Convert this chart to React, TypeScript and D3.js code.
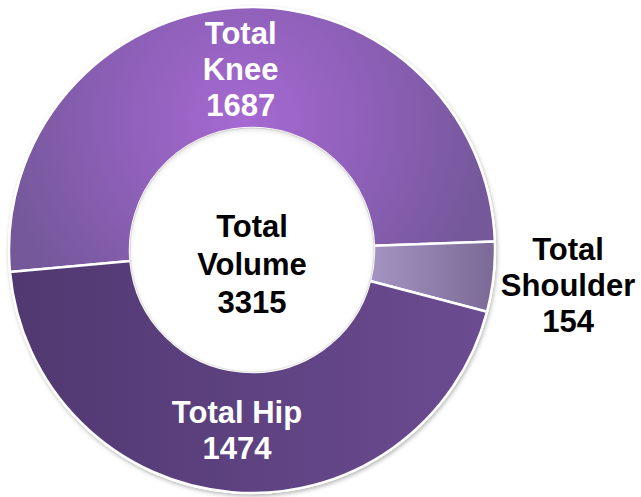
import React from "react";
import * as d3 from "d3";

const categories = ["Total Knee", "Total Shoulder", "Total Hip"];
const values = [1687, 154, 1474];
const centerTitle = ["Total", "Volume"];
const labelLines = [["Total", "Knee"], ["Total", "Shoulder"], ["Total Hip"]];

const W = 641, H = 497;
const cx = 252, cy = 250;
const R = 243, r0 = 122;
const startDeg = -95.2;
const FONT = "'Liberation Sans', Arial, Helvetica, sans-serif";

export default function App() {
  const total = d3.sum(values);
  const pie = d3.pie<number>().sort(null).value(d => d)
    .startAngle(startDeg * Math.PI / 180)
    .endAngle(startDeg * Math.PI / 180 + 2 * Math.PI);
  const arcs = pie(values);
  const arc = d3.arc<d3.PieArcDatum<number>>().innerRadius(r0).outerRadius(R);
  const labelArcIn = d3.arc<d3.PieArcDatum<number>>().innerRadius(181).outerRadius(181);
  const labelArcOut = d3.arc<d3.PieArcDatum<number>>().innerRadius(318).outerRadius(318);
  const fills = ["url(#gKnee)", "url(#gShoulder)", "url(#gHip)"];
  const lineH = 36;

  return (
    <svg width={W} height={H} style={{ position: "absolute", left: 0, top: 0 }}>
      <defs>
        <radialGradient id="gKnee" gradientUnits="userSpaceOnUse" cx={-8} cy={-130} r={250}>
          <stop offset="0" stopColor="#a669d2" />
          <stop offset="0.55" stopColor="#8c5fb6" />
          <stop offset="1" stopColor="#74589a" />
        </radialGradient>
        <linearGradient id="gShoulder" gradientUnits="userSpaceOnUse" x1={r0} x2={R} y1={0} y2={0}>
          <stop offset="0" stopColor="#a393c0" />
          <stop offset="1" stopColor="#7b6995" />
        </linearGradient>
        <linearGradient id="gHip" gradientUnits="userSpaceOnUse" x1={-R} x2={R} y1={0} y2={0}>
          <stop offset="0" stopColor="#503870" />
          <stop offset="1" stopColor="#6c4c92" />
        </linearGradient>
        <filter id="shadow" x="-10%" y="-10%" width="120%" height="120%">
          <feDropShadow dx="1" dy="2" stdDeviation="2" floodColor="#000" floodOpacity="0.3" />
        </filter>
        <filter id="innerSh" x="-10%" y="-10%" width="120%" height="120%">
          <feGaussianBlur in="SourceAlpha" stdDeviation="2.5" result="b" />
          <feOffset dx="0" dy="2" in="b" result="o" />
          <feComposite in="SourceAlpha" in2="o" operator="out" result="ring" />
          <feFlood floodColor="#000" floodOpacity="0.28" />
          <feComposite in2="ring" operator="in" result="sh" />
          <feMerge>
            <feMergeNode in="SourceGraphic" />
            <feMergeNode in="sh" />
          </feMerge>
        </filter>
      </defs>
      <g transform={`translate(${cx},${cy})`}>
        <circle r={R + 1} fill="#fff" filter="url(#shadow)" />
        {arcs.map((a, i) => (
          <path key={categories[i]} d={arc(a) || ""} fill={fills[i]} stroke="#fff" strokeWidth={2.5} strokeLinejoin="round" />
        ))}
        <circle r={r0} fill="#fff" stroke="#e6e6e6" strokeWidth={1} filter="url(#innerSh)" />
        {arcs.map((a, i) => {
          const inside = values[i] / total > 0.1;
          const [lx, ly] = (inside ? labelArcIn : labelArcOut).centroid(a);
          const lines = [...labelLines[i], String(values[i])];
          const n = lines.length;
          return (
            <text key={"l" + i} x={lx} y={ly} textAnchor="middle" fontFamily={FONT} fontWeight="bold" fontSize={31}
              fill={inside ? "#fff" : "#000"}>
              {lines.map((t, j) => (
                <tspan key={j} x={lx} y={ly + 11 + (j - (n - 1) / 2) * lineH}>{t}</tspan>
              ))}
            </text>
          );
        })}
        <text textAnchor="middle" fontFamily={FONT} fontWeight="bold" fontSize={31} fill="#000">
          {[...centerTitle, String(total)].map((t, j) => (
            <tspan key={j} x={0} y={14 + 11 + (j - 1) * 38}>{t}</tspan>
          ))}
        </text>
      </g>
    </svg>
  );
}
